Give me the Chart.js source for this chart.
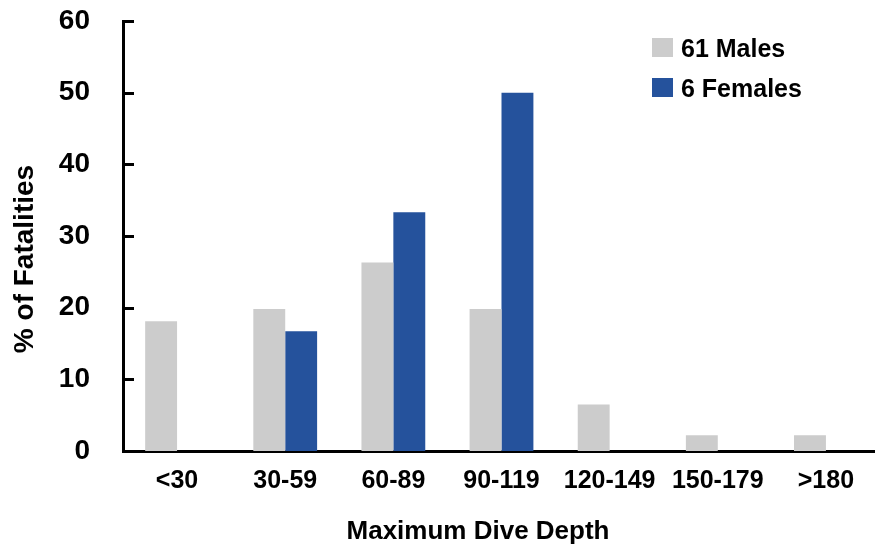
<!DOCTYPE html>
<html>
<head>
<meta charset="utf-8">
<script src="https://cdn.jsdelivr.net/npm/chart.js@4.4.0/dist/chart.umd.min.js"></script>
<style>
  html, body { margin: 0; padding: 0; background: #fff; overflow: hidden; }
</style>
</head>
<body>
<canvas id="diveChart" width="890" height="544"></canvas>
<script>
// datos
const categories = ['<30', '30-59', '60-89', '90-119', '120-149', '150-179', '>180'];
const males = [18.1, 19.8, 26.3, 19.8, 6.5, 2.2, 2.2];
const females = [0, 16.7, 33.3, 50, 0, 0, 0];
const yTicks = [0, 10, 20, 30, 40, 50, 60];
const seriesLabels = ['61 Males', '6 Females'];
const xTitle = 'Maximum Dive Depth';
const yTitle = '% of Fatalities';

const FONT = '"Liberation Sans", Arial, sans-serif';
Chart.defaults.font.family = FONT;
Chart.defaults.color = '#000';

// marcas del eje Y hacia dentro, leyenda y títulos de ejes
const extras = {
  id: 'extras',
  afterDatasetsDraw(chart) {
    const { ctx, chartArea, scales } = chart;
    ctx.save();
    ctx.strokeStyle = '#000';
    ctx.lineWidth = 3;
    yTicks.forEach(v => {
      const y = Math.round(scales.y.getPixelForValue(v)) + 0.5;
      ctx.beginPath();
      ctx.moveTo(chartArea.left, y);
      ctx.lineTo(chartArea.left + 11, y);
      ctx.stroke();
    });

    // leyenda
    ctx.font = 'bold 25px ' + FONT;
    ctx.textBaseline = 'alphabetic';
    ctx.textAlign = 'left';
    chart.data.datasets.forEach((ds, i) => {
      const top = 38 + i * 40;
      ctx.fillStyle = ds.backgroundColor;
      ctx.fillRect(652, top, 21, 19);
      ctx.fillStyle = '#000';
      ctx.fillText(ds.label, 681, top + 19);
    });

    // título eje X
    ctx.font = 'bold 26px ' + FONT;
    ctx.textAlign = 'center';
    ctx.fillText(xTitle, 478, 539);

    // título eje Y
    ctx.font = 'bold 28px ' + FONT;
    ctx.translate(33, 259);
    ctx.rotate(-Math.PI / 2);
    ctx.fillText(yTitle, 0, 0);
    ctx.restore();
  }
};

const ctx = document.getElementById('diveChart').getContext('2d');
new Chart(ctx, {
  type: 'bar',
  data: {
    labels: categories,
    datasets: [
      {
        label: seriesLabels[0],
        data: males,
        backgroundColor: '#cccccc',
        categoryPercentage: 0.59,
        barPercentage: 1.0
      },
      {
        label: seriesLabels[1],
        data: females,
        backgroundColor: '#25529c',
        categoryPercentage: 0.59,
        barPercentage: 1.0
      }
    ]
  },
  options: {
    responsive: false,
    animation: false,
    layout: { padding: { top: 21, right: 10, left: 0, bottom: 0 } },
    plugins: {
      legend: { display: false },
      tooltip: { enabled: false }
    },
    scales: {
      x: {
        grid: { display: false, drawTicks: false },
        border: { color: '#000', width: 3 },
        ticks: {
          color: '#000',
          font: { size: 25, weight: 'bold' },
          padding: 15,
          maxRotation: 0,
          autoSkip: false
        },
        afterFit: s => {
          s.height = 93;
          s.paddingLeft = 0;
          s.paddingRight = 0;
        }
      },
      y: {
        min: 0,
        max: 60,
        afterBuildTicks: s => { s.ticks = yTicks.map(v => ({ value: v })); },
        grid: { display: false, drawTicks: false },
        border: { color: '#000', width: 3 },
        ticks: {
          color: '#000',
          font: { size: 28, weight: 'bold' },
          padding: 33
        },
        afterFit: s => {
          s.width = 123;
          s.paddingTop = 0;
          s.paddingBottom = 0;
        }
      }
    }
  },
  plugins: [extras]
});
</script>
</body>
</html>
